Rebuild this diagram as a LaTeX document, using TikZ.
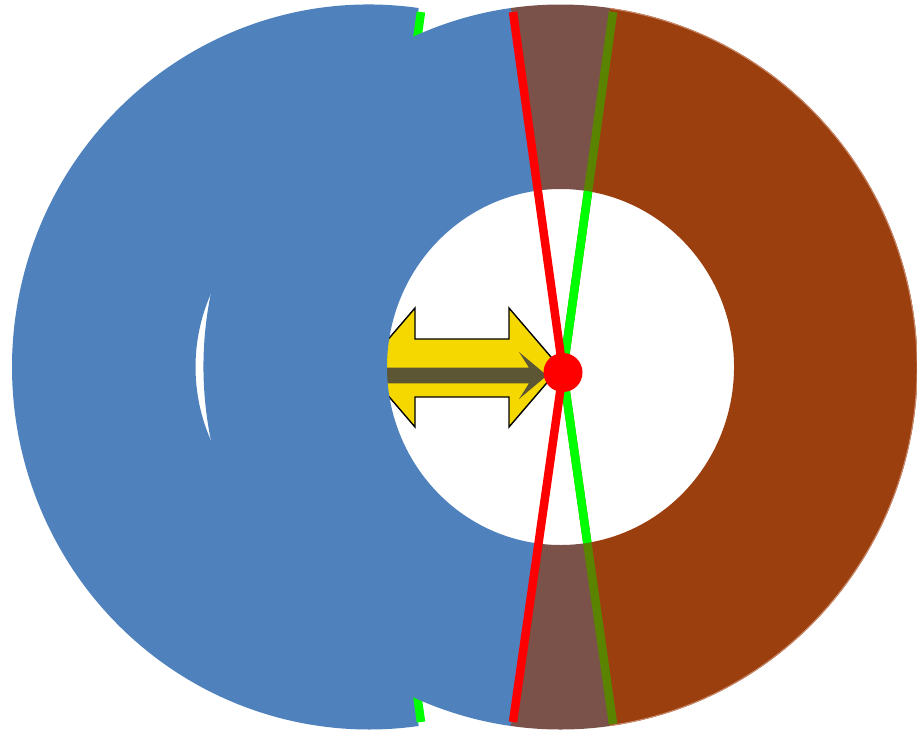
\documentclass[tikz,border=0pt]{standalone}
\definecolor{cblue}{HTML}{4F81BD}
\definecolor{cbrown}{HTML}{9C3F0F}
\definecolor{cmix}{HTML}{7A5249}
\definecolor{colive}{HTML}{5A8300}
\definecolor{cgreen}{HTML}{00FF00}
\definecolor{cred}{HTML}{FF0000}
\definecolor{cyellow}{HTML}{F5D800}
\definecolor{cdark}{HTML}{5C5634}
\definecolor{cedge}{HTML}{C98A6C}
\begin{document}
\begin{tikzpicture}[x=1pt,y=-1pt,line join=miter,
  thickline/.style={line width=8.5pt},
  ring/.style={x=1pt,y=1pt}]
\useasboundingbox (0,0) rectangle (917,733);
% named points
\coordinate (L) at (563,371.5);
\coordinate (C1) at (560.5,367);
\coordinate (rt) at (513,12);
\coordinate (rb) at (513,722);
\coordinate (gt) at (613,12);
\coordinate (gb) at (613,724);
\coordinate (lgt) at (421,12);
\coordinate (lgte) at (407,110);
\coordinate (lgb) at (421,722);
\coordinate (lgbe) at (407,624);
% left copy of the blue sector
\begin{scope}[shift={(369,367)},ring]
\fill[cblue] (82:357 and 362.5) arc[start angle=82,end angle=278,x radius=357,y radius=362.5]
  -- (278:173.5 and 178) arc[start angle=278,end angle=82,x radius=173.5,y radius=178] -- cycle;
\end{scope}
\draw[cgreen,thickline] (lgt) -- (lgte);
\draw[cgreen,thickline] (lgb) -- (lgbe);
% yellow double arrow
\draw[fill=cyellow,draw=black,line width=1.4pt]
  (364,367.5) -- (415,308) -- (415,339) -- (509,339) -- (509,308) -- (560,367.5)
  -- (509,427) -- (509,397) -- (415,397) -- (415,427) -- cycle;
\fill[cdark] (380,367.7) -- (529,367.7) -- (519,352) -- (547,375.5) -- (519,399) -- (529,383.3) -- (380,383.3) -- cycle;
% main ring sectors
\begin{scope}[shift={(560.5,367)},ring]
\fill[cblue] (98:357 and 362.5) arc[start angle=98,end angle=262,x radius=357,y radius=362.5]
  -- (262:173.5 and 178) arc[start angle=262,end angle=98,x radius=173.5,y radius=178] -- cycle;
\fill[cmix] (82:357 and 362.5) arc[start angle=82,end angle=98,x radius=357,y radius=362.5]
  -- (98:173.5 and 178) arc[start angle=98,end angle=82,x radius=173.5,y radius=178] -- cycle;
\fill[cmix] (262:357 and 362.5) arc[start angle=262,end angle=278,x radius=357,y radius=362.5]
  -- (278:173.5 and 178) arc[start angle=278,end angle=262,x radius=173.5,y radius=178] -- cycle;
\fill[cbrown] (-82:357 and 362.5) arc[start angle=-82,end angle=82,x radius=357,y radius=362.5]
  -- (82:173.5 and 178) arc[start angle=82,end angle=-82,x radius=173.5,y radius=178] -- cycle;
\draw[cedge,line width=1pt] (-82:356.5 and 362) arc[start angle=-82,end angle=82,x radius=356.5,y radius=362];
\end{scope}
% green lines: olive over the ring, bright in the hole
\draw[colive,thickline] (gt) -- (L) -- (gb);
\begin{scope}
\clip (C1) ellipse [x radius=173.5pt,y radius=178pt];
\draw[cgreen,thickline] (gt) -- (L) -- (gb);
\end{scope}
% red lines
\draw[cred,thickline] (rt) -- (L) -- (rb);
% red dot
\node[circle,fill=cred,inner sep=0pt,minimum size=39pt] (dot) at (563,372.5) {};
\end{tikzpicture}
\end{document}
